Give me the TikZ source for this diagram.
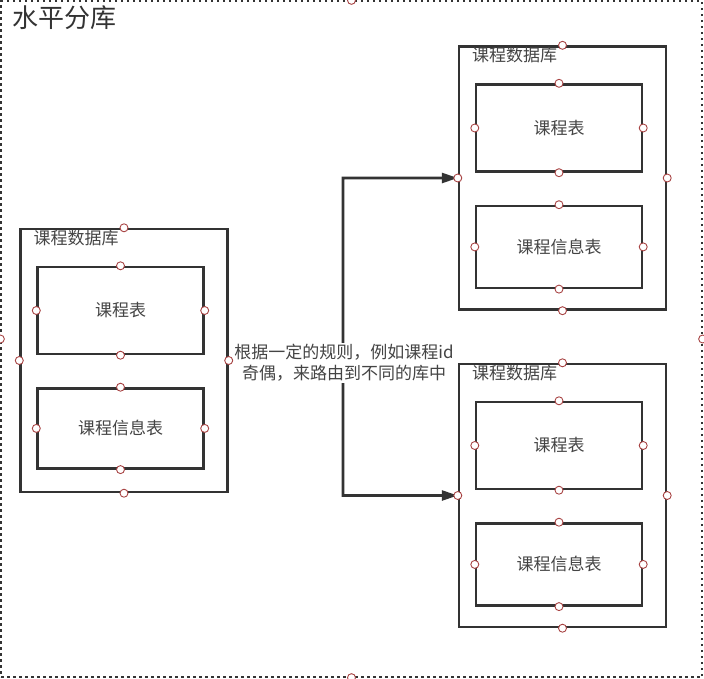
\documentclass[tikz,border=0pt]{standalone}
\usepackage{fontspec}
\setmainfont{Noto Sans CJK SC}
\usetikzlibrary{arrows.meta, positioning}

\definecolor{linegray}{HTML}{333333}
\definecolor{textgray}{HTML}{444444}
\definecolor{pinred}{HTML}{A84444}

\begin{document}
\begin{tikzpicture}[
	x=1pt, y=-1pt,
	dbbox/.style={rectangle, draw=linegray, line width=2.4pt, minimum width=207pt, minimum height=263pt, inner sep=0pt},
	tbl/.style={rectangle, draw=linegray, line width=2.4pt, minimum width=166pt, minimum height=87pt, font=\fontsize{17}{20}\selectfont, text=textgray},
	infotbl/.style={tbl, minimum height=82pt},
	dbtitle/.style={inner sep=1pt, font=\fontsize{17}{20}\selectfont, text=textgray},
	arrow/.style={-{Triangle[length=16pt, width=10pt]}, draw=linegray, line width=2.6pt},
	pin/.style={circle, draw=pinred, fill=white, line width=0.9pt, minimum size=8pt, inner sep=0pt},
	node distance=32pt
]
	\useasboundingbox (0,0) rectangle (704,678);

	% Frame
	\node[rectangle, draw=linegray, line width=1.3pt, dash pattern=on 2.5pt off 3.5pt, minimum width=701pt, minimum height=676pt, inner sep=0pt] (frame) at (351.5,339) {};
	\node[anchor=north west, inner sep=1pt, font=\fontsize{26}{30}\selectfont, text=linegray] (head) at (11,4) {水平分库};

	% Source database
	\node[dbbox] (ldb) at (124,360.5) {};
	\node[dbtitle, below right=1pt and 13pt of ldb.north west] (ltitle) {课程数据库};
	\node[tbl, below=38pt of ldb.north, xshift=-3.5pt] (lt1) {课程表};
	\node[infotbl, below=of lt1, minimum height=80pt] (lt2) {课程信息表};

	% Target database, top
	\node[dbbox] (tdb) at (562.5,178) {};
	\node[dbtitle, below right=1pt and 13pt of tdb.north west] (ttitle) {课程数据库};
	\node[tbl, below=38pt of tdb.north, xshift=-3.5pt] (tt1) {课程表};
	\node[infotbl, below=of tt1] (tt2) {课程信息表};

	% Target database, bottom
	\node[dbbox] (bdb) at (562.5,495.5) {};
	\node[dbtitle, below right=1pt and 13pt of bdb.north west] (btitle) {课程数据库};
	\node[tbl, below=38pt of bdb.north, xshift=-3.5pt] (bt1) {课程表};
	\node[infotbl, below=of bt1] (bt2) {课程信息表};

	% Routing
	\coordinate (split) at (343,360);
	\draw[arrow] (ldb.east) -- (split) |- (tdb.west);
	\draw[arrow] (ldb.east) -- (split) |- (bdb.west);
	\node[fill=white, inner sep=1pt, align=center, font=\fontsize{17}{21}\selectfont, text=textgray] (rule) at (344,363) {根据一定的规则，例如课程id\\奇偶，来路由到不同的库中};

	% Connection points
	\foreach \n in {frame, ldb, lt1, lt2, tdb, tt1, tt2, bdb, bt1, bt2}
		\foreach \a in {north, south, east, west}
			\node[pin] at (\n.\a) {};
\end{tikzpicture}
\end{document}
